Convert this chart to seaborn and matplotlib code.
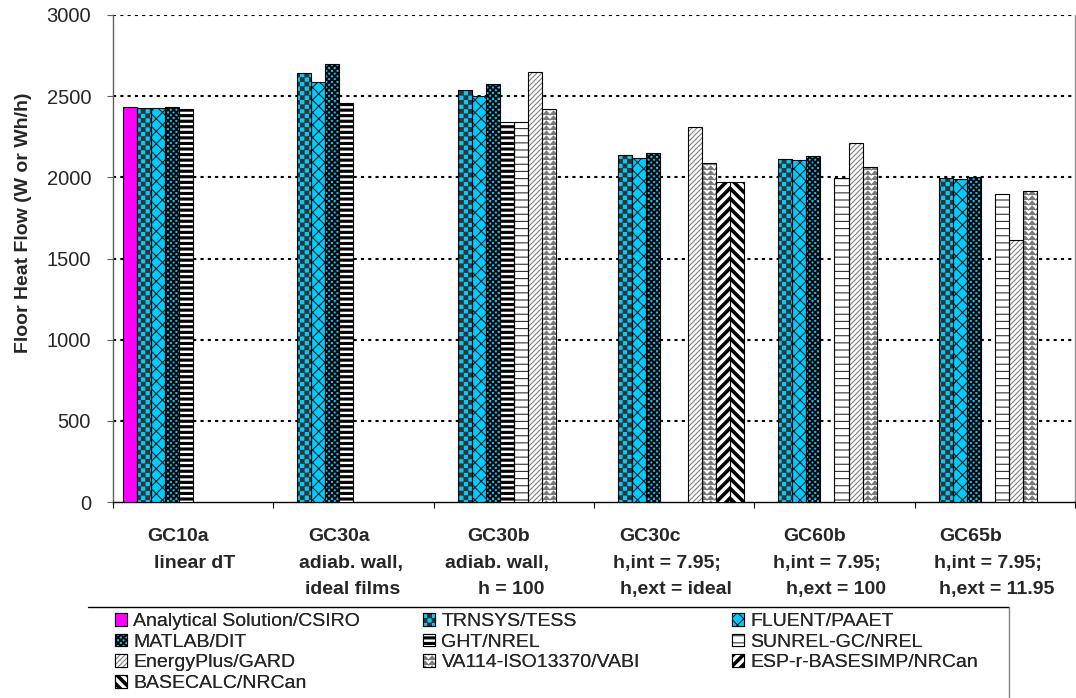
import numpy as np
import pandas as pd
import matplotlib
matplotlib.use("Agg")
import matplotlib.pyplot as plt
import matplotlib.hatch as mhatch
from matplotlib.path import Path
from matplotlib.patches import Patch, Rectangle
from matplotlib.lines import Line2D
from matplotlib.legend_handler import HandlerTuple
import seaborn as sns

# ---------------- data ----------------
nan = np.nan
cases = ["GC10a", "GC30a", "GC30b", "GC30c", "GC60b", "GC65b"]
case_desc = [["linear dT"],
             ["adiab. wall,", "ideal films"],
             ["adiab. wall,", "h = 100"],
             ["h,int = 7.95;", "h,ext = ideal"],
             ["h,int = 7.95;", "h,ext = 100"],
             ["h,int = 7.95;", "h,ext = 11.95"]]
models = ["Analytical Solution/CSIRO", "TRNSYS/TESS", "FLUENT/PAAET",
          "MATLAB/DIT", "GHT/NREL", "SUNREL-GC/NREL",
          "EnergyPlus/GARD", "VA114-ISO13370/VABI", "ESP-r-BASESIMP/NRCan",
          "BASECALC/NRCan"]
analytical = [2432, nan, nan, nan, nan, nan]
trnsys     = [2425, 2644, 2535, 2136, 2115, 1998]
fluent     = [2425, 2588, 2502, 2121, 2105, 1992]
matlab     = [2432, 2697, 2574, 2152, 2130, 2002]
ght        = [2418, 2459, 2341, nan, nan, nan]
sunrel     = [nan, nan, 2341, nan, 1998, 1895]
energyplus = [nan, nan, 2650, 2310, 2214, 1617]
va114      = [nan, nan, 2424, 2091, 2064, 1918]
espr       = [nan, nan, nan, 1971, nan, nan]
basecalc   = [nan, nan, nan, 1971, nan, nan]
series = [analytical, trnsys, fluent, matlab, ght, sunrel,
          energyplus, va114, espr, basecalc]

rows = []
for m, vals in zip(models, series):
    for c, v in zip(cases, vals):
        if not np.isnan(v):
            rows.append({"case": c, "model": m, "flow": v})
df = pd.DataFrame(rows)

# ---------------- custom hatch patterns ----------------
MV, LT, CL = Path.MOVETO, Path.LINETO, Path.CLOSEPOLY


def _seg(p0, p1):
    return np.array([p0, p1], float), np.array([MV, LT])


def _poly(pts):
    v = np.array(list(pts) + [pts[0]], float)
    c = np.array([MV] + [LT] * (len(pts) - 1) + [CL])
    return v, c


def pat_hlines(n):
    return [_seg((-0.05, i / n), (1.05, i / n)) for i in range(n + 1)]


def pat_hbands(n, t):
    out = []
    for i in range(-1, n + 1):
        y0 = i / n
        out.append(_poly([(-0.05, y0), (1.05, y0), (1.05, y0 + t), (-0.05, y0 + t)]))
    return out


def pat_checker(n, e=0.004):
    m = 2 * n
    s = 1.0 / m
    out = []
    for i in range(m):
        for j in range(m):
            if (i + j) % 2 == 0:
                x0, y0 = i * s + e, j * s + e
                x1, y1 = (i + 1) * s - e, (j + 1) * s - e
                out.append(_poly([(x0, y0), (x1, y0), (x1, y1), (x0, y1)]))
    return out


def pat_ne(n):
    return [_seg((-0.1, -0.1 + i / n), (1.1, 1.1 + i / n)) for i in range(-n - 1, n + 2)]


def pat_se(n):
    return [_seg((-0.1, 0.1 + i / n), (1.1, -1.1 + i / n)) for i in range(-1, 2 * n + 2)]


def pat_ne_bands(n, t):
    out = []
    for i in range(-n - 1, n + 2):
        c = i / n
        out.append(_poly([(-0.1, -0.1 + c), (1.1, 1.1 + c), (1.1, 1.1 + c + t), (-0.1, -0.1 + c + t)]))
    return out


def pat_se_bands(n, t):
    out = []
    for i in range(-1, 2 * n + 2):
        c = i / n
        out.append(_poly([(-0.1, 0.1 + c), (1.1, -1.1 + c), (1.1, -1.1 + c + t), (-0.1, 0.1 + c + t)]))
    return out


def pat_zigzag(nx, ny, amp):
    out = []
    xs = np.linspace(0, 1, 2 * nx + 1)
    for j in range(-2, ny + 1):
        y = j / ny
        pts = [(x, y + (amp if k % 2 else 0.0)) for k, x in enumerate(xs)]
        v = np.array(pts, float)
        c = np.array([MV] + [LT] * (len(pts) - 1))
        out.append((v, c))
    return out


PATTERNS = {
    "O": lambda: pat_checker(11),
    "o": lambda: pat_checker(18, 0.002),
    "x": lambda: pat_ne(8) + pat_se(8),
    "-": lambda: pat_hlines(14),
    "+": lambda: pat_hbands(18, 0.020),
    "/": lambda: pat_ne(20),
    "*": lambda: pat_zigzag(14, 20, 0.04),
    "X": lambda: pat_ne_bands(10, 0.035),
    "\\": lambda: pat_se_bands(10, 0.035),
}


class CustomHatch(mhatch.HatchPatternBase):
    def __init__(self, hatch, density):
        parts = []
        for ch in dict.fromkeys(hatch):
            if ch in PATTERNS:
                parts.extend(PATTERNS[ch]())
        self.parts = parts
        self.num_vertices = int(sum(len(v) for v, c in parts))

    def set_vertices_and_codes(self, vertices, codes):
        if self.parts:
            vertices[:] = np.concatenate([v for v, c in self.parts])
            codes[:] = np.concatenate([c for v, c in self.parts])


mhatch._hatch_types[:] = [CustomHatch]

CYAN = "#00CCFF"
styles = [
    dict(fc="#FF00FF", hatch=None, hc="black"),
    dict(fc=CYAN, hatch="O", hc="#333333"),
    dict(fc=CYAN, hatch="x", hc="#222222"),
    dict(fc=CYAN, hatch="o", hc="#000000"),
    dict(fc="white", hatch="+", hc="black"),
    dict(fc="white", hatch="-", hc="#333333"),
    dict(fc="white", hatch="/", hc="#808080"),
    dict(fc="white", hatch="*", hc="#7a7a7a"),
    dict(fc="white", hatch="X", hc="black"),
    dict(fc="white", hatch="\\", hc="black"),
]

# ---------------- plot ----------------
sns.set_style("white")
plt.rcParams["font.family"] = ["Liberation Sans", "DejaVu Sans"]
plt.rcParams["hatch.linewidth"] = 0.8

W, H = 1076, 698
fig = plt.figure(figsize=(W / 100, H / 100), dpi=100)
ax = fig.add_axes([113 / W, 1 - 502 / H, (1075 - 113) / W, (502 - 15) / H])

n_h = len(models)
bar_w = 0.875
sns.barplot(data=df, x="case", y="flow", hue="model", order=cases,
            hue_order=models, width=bar_w, errorbar=None, saturation=1,
            legend=False, ax=ax, zorder=3)

slot = bar_w / n_h
for p in list(ax.patches):
    w = p.get_width()
    h = p.get_height()
    if not np.isfinite(h) or h <= 0:
        p.set_visible(False)
        continue
    xc = p.get_x() + w / 2
    rel = xc - round(xc)
    k = int(round((rel + bar_w / 2 - slot / 2) / slot))
    st = styles[k]
    p.set_facecolor(st["fc"])
    p.set_edgecolor(st["hc"])
    p.set_linewidth(0)
    if st["hatch"]:
        p.set_hatch(st["hatch"])
    ax.add_patch(Rectangle(p.get_xy(), w, h, fill=False,
                           ec="black", lw=0.8, zorder=4))

ax.set_xlim(-0.5, len(cases) - 0.5)
ax.set_ylim(0, 3000)
ax.set_yticks(np.arange(0, 3001, 500))
ax.yaxis.grid(True, linestyle=(0, (1.5, 2.0)), color="black", linewidth=1.5)
ax.xaxis.grid(False)
ax.set_axisbelow(True)
ax.yaxis.get_gridlines()[0].set_visible(False)

ax.spines["top"].set_visible(False)
ax.spines["left"].set_color("#606060")
ax.spines["right"].set_color("#909090")
ax.spines["bottom"].set_color("black")
for s in ["left", "right", "bottom"]:
    ax.spines[s].set_linewidth(1.0)

ax.tick_params(axis="y", direction="out", length=4.3, width=0.8, color="#606060",
               labelsize=14.5, pad=11.5, left=True)
ax.set_xticks(np.arange(len(cases)))
ax.set_xticklabels([])
ax.tick_params(axis="x", which="major", length=0)
ax.set_xticks(np.arange(-0.5, len(cases)), minor=True)
ax.tick_params(axis="x", which="minor", direction="out", length=4.3, width=0.8,
               color="black", bottom=True)
ax.set_xlabel("")
ax.set_ylabel("Floor Heat Flow (W or Wh/h)", fontsize=14, fontweight="bold")
ax.yaxis.set_label_coords(-0.084, 0.573)

# category labels (multi-line, Excel-like offsets in pixels)
grp_px = (1075 - 113) / len(cases)
off1 = [-15, -14.5, -15, -24, -20, -24]
off2 = [1, -2.5, -17, -7, -8, -7]
off3 = [0, -0.5, -3, 2, 1.5, 2]
base_y = [541, 568, 594]
tr = ax.get_xaxis_transform()
for i, (c, desc) in enumerate(zip(cases, case_desc)):
    lines = [c] + desc
    offs = [off1[i], off2[i], off3[i]]
    for j, txt in enumerate(lines):
        ax.text(i + offs[j] / grp_px, (502 - base_y[j]) / 487, txt, transform=tr,
                ha="center", va="baseline", fontsize=14, fontweight="bold",
                clip_on=False)

# ---------------- legend ----------------
handles = []
for st in styles:
    h1 = Patch(facecolor=st["fc"], edgecolor=st["hc"], lw=0, hatch=st["hatch"])
    h2 = Patch(fill=False, edgecolor="black", lw=0.8)
    handles.append((h1, h2))

col_x = [115, 423, 732]
for ci in range(3):
    idx = list(range(ci, n_h, 3))
    leg = fig.legend([handles[i] for i in idx], [models[i] for i in idx],
                     loc="upper left", bbox_to_anchor=(col_x[ci] / W, 1 - 613 / H),
                     frameon=False, borderpad=0, borderaxespad=0,
                     handlelength=0.62, handleheight=0.62, handletextpad=0.33,
                     labelspacing=0.18, fontsize=14,
                     handler_map={tuple: HandlerTuple(ndivide=1)})
    fig.add_artist(leg)

fig.add_artist(Line2D([88 / W, 1009 / W], [1 - 607 / H, 1 - 607 / H],
                      color="black", lw=1.0, transform=fig.transFigure))
fig.add_artist(Line2D([1009 / W, 1009 / W], [1 - 607 / H, 0],
                      color="#808080", lw=1.0, transform=fig.transFigure))

fig.savefig("out.png", dpi=100)
